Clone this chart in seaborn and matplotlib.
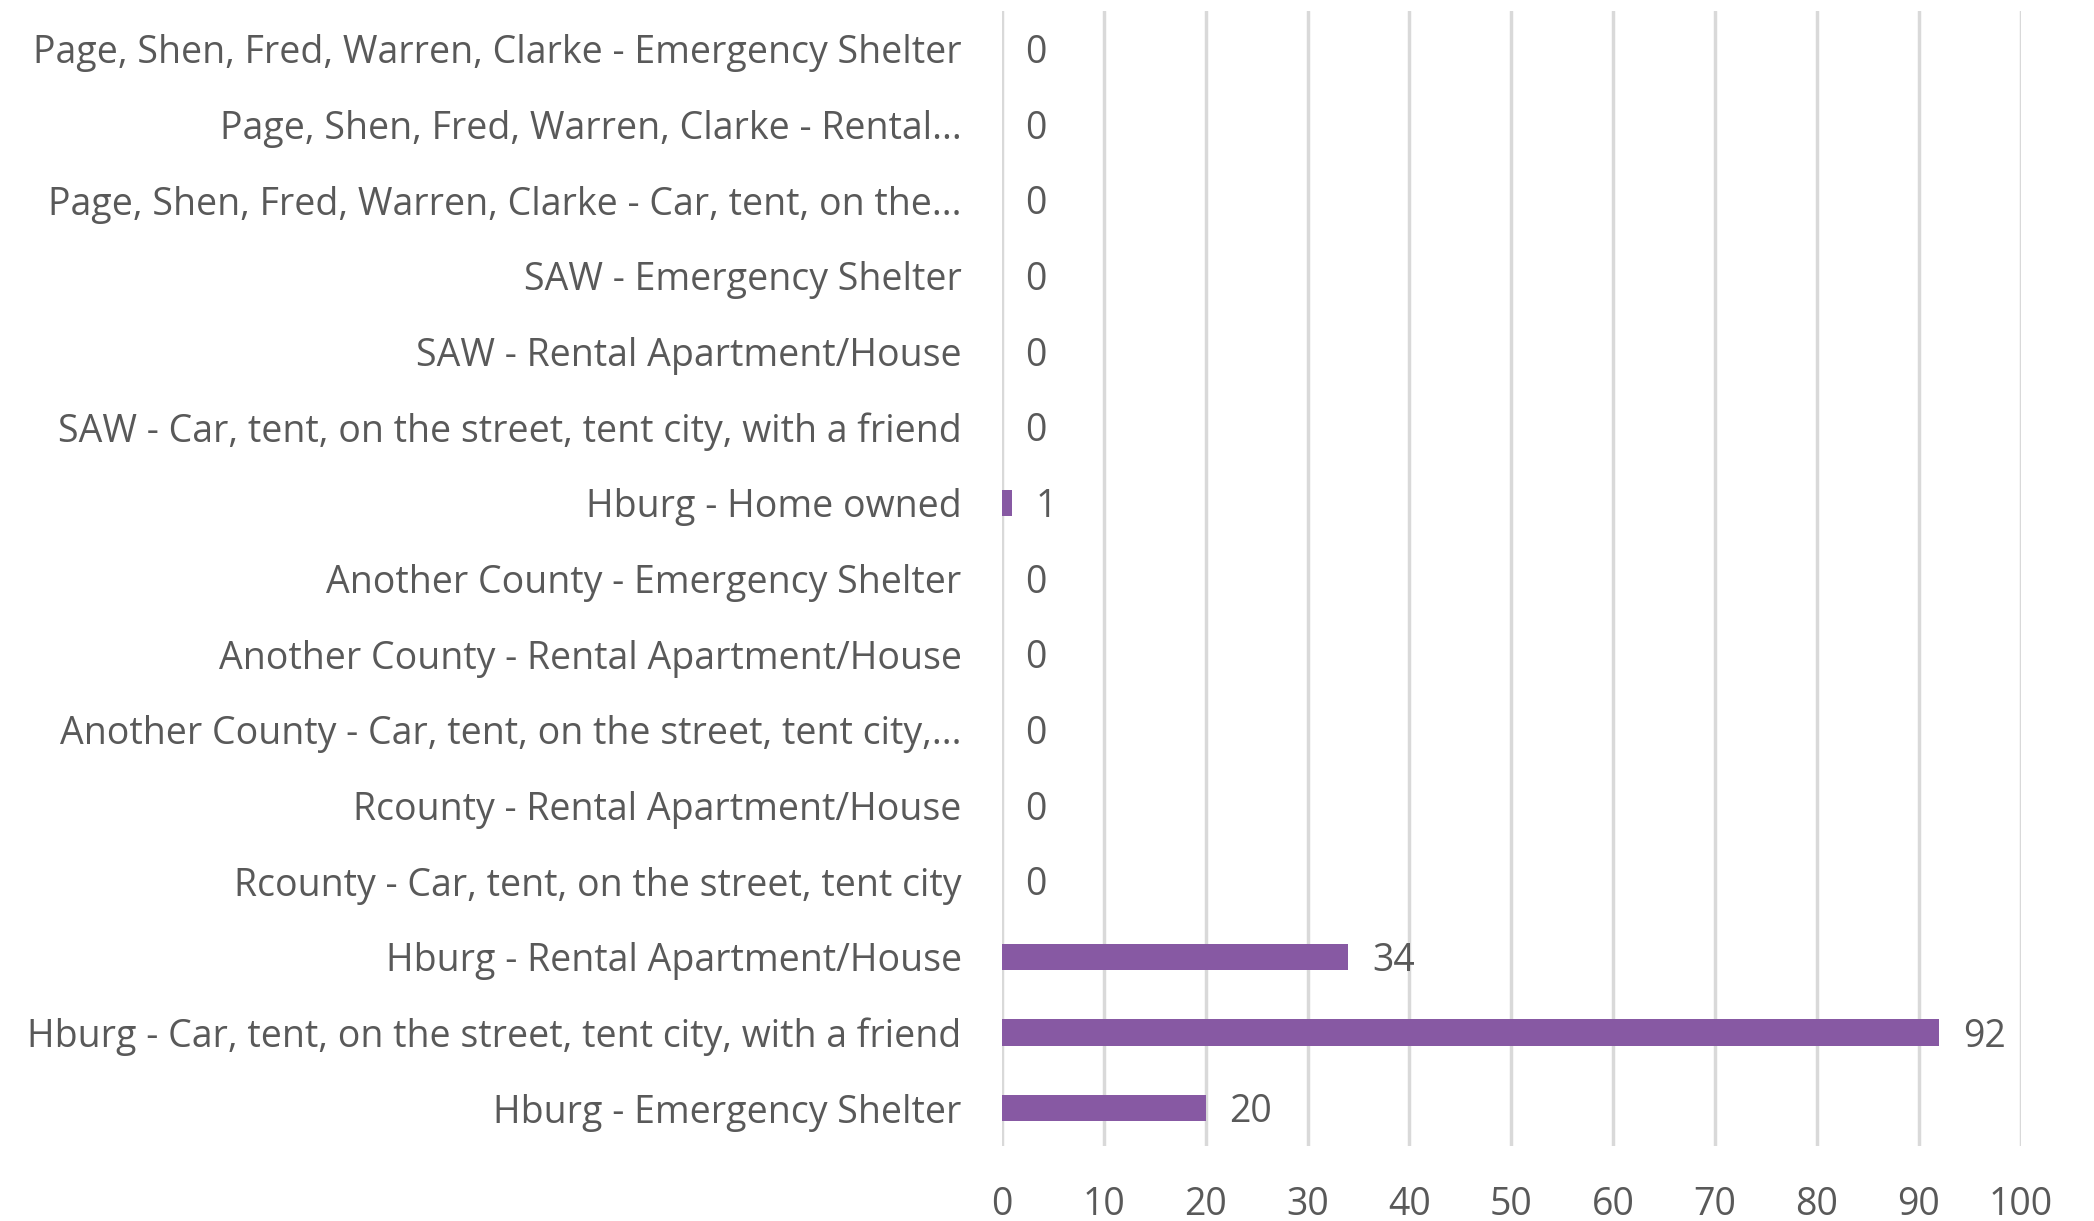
import pandas as pd
import seaborn as sns
import matplotlib.pyplot as plt

# categories listed top to bottom as in the chart
categories = [
    "Page, Shen, Fred, Warren, Clarke - Emergency Shelter",
    "Page, Shen, Fred, Warren, Clarke - Rental...",
    "Page, Shen, Fred, Warren, Clarke - Car, tent, on the...",
    "SAW - Emergency Shelter",
    "SAW - Rental Apartment/House",
    "SAW - Car, tent, on the street, tent city, with a friend",
    "Hburg - Home owned",
    "Another County - Emergency Shelter",
    "Another County - Rental Apartment/House",
    "Another County - Car, tent, on the street, tent city,...",
    "Rcounty - Rental Apartment/House",
    "Rcounty - Car, tent, on the street, tent city",
    "Hburg - Rental Apartment/House",
    "Hburg - Car, tent, on the street, tent city, with a friend",
    "Hburg - Emergency Shelter",
]
counts = [0, 0, 0, 0, 0, 0, 1, 0, 0, 0, 0, 0, 34, 92, 20]
x_ticks = [0, 10, 20, 30, 40, 50, 60, 70, 80, 90, 100]


def main():
    sns.set_style("white")
    plt.rcParams['font.family'] = ['Open Sans', 'DejaVu Sans']
    text_color = "#595959"

    df = pd.DataFrame({"category": categories, "count": counts})

    fig = plt.figure(figsize=(20.94, 12.21), dpi=100)
    ax = fig.add_axes([0.4785, 0.0614, 0.4865, 0.9296])

    # linewidth=0 so empty bars don't paint white edges over the zero line
    sns.barplot(data=df, x="count", y="category", color="#8759a3",
                width=0.35, saturation=1, linewidth=0, ax=ax, zorder=3)

    # value labels to the right of each bar, nudged down a little
    for container in ax.containers:
        labels = ax.bar_label(container, padding=17, fontsize=27, color=text_color)
        for t in labels:
            t.xyann = (t.xyann[0], t.xyann[1] - 3)

    ax.set_xlim(0, 100)
    ax.set_xticks(x_ticks)
    ax.set_ylim(len(categories) - 0.5, -0.5)
    ax.xaxis.grid(True, color="#d9d9d9", linewidth=2.5)
    ax.set_axisbelow(True)

    for side in ["top", "right", "bottom", "left"]:
        ax.spines[side].set_visible(False)

    ax.tick_params(axis="x", length=0, pad=29, labelsize=27, labelcolor=text_color)
    ax.tick_params(axis="y", length=0, pad=29, labelsize=27, labelcolor=text_color)
    ax.set_xlabel("")
    ax.set_ylabel("")

    plt.savefig("out.png", dpi=100)
    plt.close()


if __name__ == '__main__':
    main()
